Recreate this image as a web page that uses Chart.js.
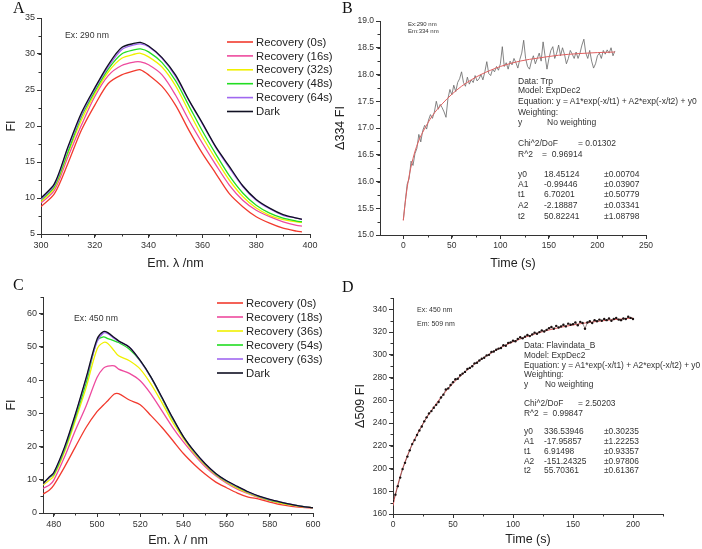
<!DOCTYPE html>
<html>
<head>
<meta charset="utf-8">
<script src="https://cdn.jsdelivr.net/npm/chart.js@4.4.0/dist/chart.umd.min.js"></script>
<style>
  body { margin: 0; background: #fff; }
  #page { position: relative; width: 702px; height: 549px; overflow: hidden; background: #fff; }
  canvas { position: absolute; }
  .t { position: absolute; font-family: "Liberation Sans", Arial, sans-serif; color: #333; white-space: pre; line-height: 1; }
  .L { position: absolute; font-family: "Liberation Serif", "Times New Roman", serif; font-size: 16px; line-height: 1; color: #111; }
</style>
</head>
<body>
<div id="page">
  <canvas id="cA" width="345" height="275" style="left:0;top:0"></canvas>
  <canvas id="cB" width="373" height="275" style="left:329px;top:0"></canvas>
  <canvas id="cC" width="345" height="274" style="left:0;top:275px"></canvas>
  <canvas id="cD" width="353" height="274" style="left:349px;top:275px"></canvas>
  <div class="L" style="left:13px;top:0">A</div>
  <div class="L" style="left:342px;top:0">B</div>
  <div class="L" style="left:13px;top:277px">C</div>
  <div class="L" style="left:342px;top:279px">D</div>
</div>
<script>
// ---- panel A : Trp spectra ----
const aWl = [300, 305, 310, 315, 320, 325, 330, 335, 337, 340, 345, 350, 355, 360, 365, 370, 375, 380, 385, 390, 395, 397];
const aRec0 = [8.8, 10.6, 14.8, 19.4, 22.9, 25.9, 27.1, 27.7, 27.8, 27.1, 25.5, 22.9, 19.4, 16.2, 13.4, 10.6, 8.8, 7.4, 6.5, 5.8, 5.4, 5.3];
const aRec16 = [9.3, 11.1, 15.7, 20.1, 24.1, 27.0, 28.4, 28.9, 28.9, 28.5, 27.1, 24.3, 20.8, 17.6, 14.6, 11.8, 9.7, 8.3, 7.4, 6.7, 6.2, 6.1];
const aRec32 = [9.5, 11.4, 16.2, 20.8, 24.5, 27.5, 29.4, 30.0, 30.1, 29.6, 28.2, 25.6, 22.0, 18.5, 15.4, 12.5, 10.2, 8.6, 7.6, 7.0, 6.7, 6.6];
const aRec48 = [9.7, 11.6, 16.4, 21.3, 24.8, 27.9, 30.0, 30.6, 30.7, 30.3, 28.8, 26.3, 22.8, 19.3, 16.1, 13.1, 10.7, 9.0, 7.9, 7.2, 6.8, 6.7];
const aRec64 = [9.8, 11.8, 16.9, 21.5, 25.1, 28.2, 30.6, 31.3, 31.4, 31.0, 29.4, 26.9, 23.5, 20.3, 17.0, 14.2, 11.6, 9.7, 8.5, 7.6, 7.2, 7.0];
const aDark = [10.0, 12.0, 17.1, 21.8, 25.3, 28.5, 30.9, 31.5, 31.6, 31.1, 29.5, 27.1, 23.6, 20.4, 17.1, 14.4, 11.7, 9.8, 8.6, 7.7, 7.2, 7.05];
const aLabels = ['Recovery (0s)', 'Recovery (16s)', 'Recovery (32s)', 'Recovery (48s)', 'Recovery (64s)', 'Dark'];
const aXTicks = [300, 320, 340, 360, 380, 400];
const aYTicks = [5, 10, 15, 20, 25, 30, 35];

// ---- panel B : Trp recovery kinetics ----
const bTime = [0, 2, 4, 6, 8, 10, 12, 14, 16, 18, 20, 22, 24, 26, 28, 30, 32, 34, 36, 38, 40, 42, 44, 46, 48, 50,
  52, 54, 56, 58, 60, 62, 64, 66, 68, 70, 72, 74, 76, 78, 80, 82, 84, 86, 88, 90, 92, 94, 96, 98, 100,
  102, 104, 106, 108, 110, 112, 114, 116, 118, 120, 122, 124, 126, 128, 130, 132, 134, 136, 138, 140,
  142, 144, 146, 148, 150, 152, 154, 156, 158, 160, 162, 164, 166, 168, 170, 172, 174, 176, 178, 180,
  182, 184, 186, 188, 190, 192, 194, 196, 198, 200, 202, 204, 206, 208, 210, 212, 214, 216, 218];
const bSignal = [15.28, 15.62, 15.95, 16.05, 16.38, 16.30, 16.52, 16.62, 16.88, 16.74, 16.95, 17.05, 16.98, 17.15, 17.25, 17.18,
  17.30, 17.50, 17.35, 17.44, 17.38, 17.30, 17.20, 17.55, 17.72, 17.62, 17.80, 17.68, 17.85, 17.92, 18.05,
  17.85, 17.78, 17.95, 17.82, 17.90, 17.85, 17.98, 17.88, 17.92, 18.00, 17.90, 18.05, 18.24, 18.02, 17.98,
  18.10, 18.05, 18.15, 18.08, 18.20, 18.52, 18.15, 18.22, 18.10, 18.25, 18.18, 18.30, 18.22, 18.12, 18.28,
  18.40, 18.64, 18.30, 18.15, 18.10, 18.25, 18.35, 18.20, 18.30, 18.40, 18.25, 18.61, 18.35, 18.10, 18.30,
  18.45, 18.52, 18.30, 18.40, 18.55, 18.35, 18.50, 18.38, 18.20, 18.30, 18.45, 18.38, 18.30, 18.42, 18.30,
  18.40, 18.55, 18.66, 18.40, 18.30, 18.45, 18.25, 18.12, 18.20, 18.35, 18.40, 18.30, 18.45, 18.38, 18.46,
  18.40, 18.50, 18.35, 18.44];
const bFitTime = [0, 2, 5, 10, 15, 20, 30, 40, 50, 60, 70, 80, 90, 100, 120, 140, 160, 180, 200, 218];
const bFit = [15.27, 15.61, 16.00, 16.43, 16.72, 16.92, 17.23, 17.45, 17.63, 17.78, 17.90, 18.00, 18.08, 18.15, 18.25, 18.31, 18.36, 18.39, 18.41, 18.42];
const bXTicks = [0, 50, 100, 150, 200, 250];
const bYTicks = [15.0, 15.5, 16.0, 16.5, 17.0, 17.5, 18.0, 18.5, 19.0];

// ---- panel C : flavin spectra ----
const cWl = [475, 478, 480, 485, 490, 495, 500, 503, 505, 508, 510, 515, 520, 525, 530, 535, 540, 545, 550, 555, 560, 565, 570, 575, 580, 585, 590, 595, 600];
const cRec0 = [5.7, 6.9, 8.4, 13.9, 19.9, 25.8, 30.5, 32.5, 33.8, 35.8, 35.9, 34.0, 32.6, 29.3, 25.8, 21.9, 17.9, 14.6, 11.7, 9.3, 7.6, 6.0, 4.8, 4.2, 3.3, 2.5, 2.0, 1.7, 1.5];
const cRec18 = [7.4, 8.4, 9.9, 16.9, 24.9, 32.3, 40.8, 43.6, 44.2, 44.3, 43.3, 42.0, 39.8, 35.8, 30.8, 25.8, 21.4, 17.5, 14.0, 11.2, 9.0, 7.2, 5.8, 4.6, 3.7, 2.9, 2.3, 1.9, 1.6];
const cRec36 = [8.4, 9.9, 11.1, 18.4, 27.8, 37.8, 49.3, 51.3, 51.0, 48.8, 47.3, 45.8, 43.3, 38.8, 33.3, 27.3, 22.4, 18.0, 14.4, 11.5, 9.3, 7.5, 6.0, 4.8, 3.8, 3.0, 2.4, 1.9, 1.6];
const cRec54 = [8.9, 10.7, 11.6, 19.1, 28.8, 39.3, 51.8, 53.0, 52.5, 51.8, 51.3, 49.3, 45.8, 40.8, 34.6, 28.3, 22.9, 18.4, 14.7, 11.7, 9.5, 7.8, 6.2, 4.9, 3.9, 3.2, 2.5, 2.0, 1.6];
const cRec63 = [8.7, 10.7, 12.0, 19.6, 29.5, 40.4, 51.5, 54.2, 54.0, 52.5, 51.6, 49.9, 45.8, 40.8, 34.8, 28.5, 22.9, 18.5, 14.8, 11.8, 9.6, 7.9, 6.3, 5.0, 4.0, 3.3, 2.6, 2.0, 1.6];
const cDark = [8.9, 10.9, 12.2, 19.9, 29.8, 40.8, 52.3, 54.6, 54.3, 52.8, 51.8, 49.9, 45.9, 40.9, 34.9, 28.7, 23.0, 18.6, 14.9, 11.9, 9.7, 8.0, 6.4, 5.1, 4.1, 3.3, 2.6, 2.0, 1.6];
const cLabels = ['Recovery (0s)', 'Recovery (18s)', 'Recovery (36s)', 'Recovery (54s)', 'Recovery (63s)', 'Dark'];
const cXTicks = [480, 500, 520, 540, 560, 580, 600];
const cYTicks = [0, 10, 20, 30, 40, 50, 60];

// ---- panel D : flavin recovery kinetics ----
const dTime = [0, 2, 4, 6, 8, 10, 12, 14, 16, 18, 20, 22, 24, 26, 28, 30, 32, 34, 36, 38, 40, 42, 44, 46, 48, 50,
  52, 54, 56, 58, 60, 62, 64, 66, 68, 70, 72, 74, 76, 78, 80, 82, 84, 86, 88, 90, 92, 94, 96, 98, 100,
  102, 104, 106, 108, 110, 112, 114, 116, 118, 120, 122, 124, 126, 128, 130, 132, 134, 136, 138, 140,
  142, 144, 146, 148, 150, 152, 154, 156, 158, 160, 162, 164, 166, 168, 170, 172, 174, 176, 178, 180,
  182, 184, 186, 188, 190, 192, 194, 196, 198, 200];
const dSignal = [171.5, 177.0, 184.5, 192.0, 199.5, 205.0, 210.5, 216.0, 221.5, 225.0, 229.5, 233.5, 237.0, 241.5, 245.0, 248.5,
  250.5, 253.5, 256.0, 258.5, 262.5, 265.0, 269.5, 270.5, 273.5, 276.0, 278.5, 279.0, 282.0, 283.5, 285.0,
  287.5, 288.5, 290.0, 292.5, 293.0, 295.0, 296.5, 297.5, 299.5, 300.0, 302.5, 303.0, 304.5, 305.5, 306.0,
  308.5, 308.0, 310.5, 311.0, 312.5, 312.0, 314.0, 315.5, 314.5, 316.0, 317.5, 316.5, 318.0, 319.5, 318.5,
  320.0, 321.5, 320.5, 322.0, 323.5, 324.5, 323.0, 325.5, 324.0, 325.0, 326.5, 325.0, 327.5, 326.5, 327.0,
  328.5, 326.0, 329.0, 328.0, 323.0, 328.5, 329.5, 328.0, 330.5, 329.5, 331.0, 330.0, 331.5, 330.5, 332.0,
  330.0, 331.5, 332.5, 331.0, 330.5, 332.0, 331.5, 333.5, 332.5, 331.5];
const dFitTime = [0, 2, 4, 6, 8, 10, 15, 20, 25, 30, 40, 50, 60, 70, 80, 90, 100, 110, 120, 130, 140, 150, 160, 170, 180, 190, 200];
const dFit = [167.3, 177.2, 185.7, 193.2, 199.9, 205.9, 219.0, 229.9, 239.5, 248.0, 262.7, 274.9, 285.0, 293.5, 300.5, 306.5,
  311.4, 315.5, 319.0, 321.9, 324.3, 326.3, 328.0, 329.4, 330.6, 331.5, 332.4];
const dXTicks = [0, 50, 100, 150, 200];
const dYTicks = [160, 180, 200, 220, 240, 260, 280, 300, 320, 340];

const spectrumColors = ['#f23a2e', '#ee4a9e', '#f0f000', '#22dd22', '#a068f0', '#101022'];
const FONT = '"Liberation Sans", Arial, sans-serif';

// small outward minor ticks (Chart.js has none of its own)
const minorTicks = {
  id: 'minorTicks',
  afterDraw(chart, args, opts) {
    const ctx = chart.ctx;
    ctx.save();
    ctx.strokeStyle = '#333';
    ctx.lineWidth = 1;
    ['x', 'y'].forEach(id => {
      const s = chart.scales[id], step = opts[id];
      if (!step) return;
      for (let v = Math.ceil(s.min / step - 1e-9) * step; v <= s.max + 1e-9; v += step) {
        const p = Math.round(s.getPixelForValue(v)) + 0.5;
        ctx.beginPath();
        if (id === 'x') { ctx.moveTo(p, s.top); ctx.lineTo(p, s.top + 2.5); }
        else { ctx.moveTo(s.right, p); ctx.lineTo(s.right - 2.5, p); }
        ctx.stroke();
      }
    });
    ctx.restore();
  }
};

// legend drawn inside the plot, like Origin does
const boxLegend = {
  id: 'boxLegend',
  afterDraw(chart, args, o) {
    if (o.x == null) return;
    const ctx = chart.ctx;
    ctx.save();
    ctx.font = o.size + 'px ' + FONT;
    ctx.textBaseline = 'middle';
    chart.data.datasets.forEach((ds, i) => {
      const y = o.y + i * o.step;
      ctx.strokeStyle = ds.borderColor;
      ctx.lineWidth = 1.6;
      ctx.beginPath();
      ctx.moveTo(o.x, y);
      ctx.lineTo(o.x + o.len, y);
      ctx.stroke();
      ctx.fillStyle = '#222';
      ctx.fillText(ds.label, o.x + o.len + 3, y + 0.5);
    });
    ctx.restore();
  }
};

function pts(xs, ys) {
  return xs.map((x, i) => ({ x: x, y: ys[i] }));
}

function axis(min, max, ticks, title, size, fitSize, fmt, titlePad) {
  return {
    type: 'linear', min: min, max: max,
    afterBuildTicks: s => { s.ticks = ticks.map(v => ({ value: v })); },
    afterFit: s => { if (s.isHorizontal()) s.height = fitSize; else s.width = fitSize; },
    border: { display: true, color: '#333', width: 1 },
    grid: { drawOnChartArea: false, drawTicks: true, tickLength: 4, tickColor: '#333' },
    ticks: { autoSkip: false, maxRotation: 0, padding: 2, color: '#333', font: { family: FONT, size: size }, callback: fmt || (v => v) },
    title: { display: true, text: title, color: '#222', font: { family: FONT, size: 12.5 }, padding: titlePad || { top: 4, bottom: 4 } }
  };
}

function makeChart(id, datasets, pad, xAx, yAx, plugOpts) {
  return new Chart(document.getElementById(id), {
    type: 'line',
    data: { datasets: datasets },
    options: {
      responsive: false,
      animation: false,
      layout: { padding: pad },
      scales: { x: xAx, y: yAx },
      plugins: Object.assign({ legend: { display: false }, tooltip: { enabled: false } }, plugOpts)
    },
    plugins: [minorTicks, boxLegend]
  });
}

function spectra(xs, series, labels) {
  return series.map((ys, i) => ({
    label: labels[i],
    data: pts(xs, ys),
    borderColor: spectrumColors[i],
    borderWidth: 1.3,
    pointRadius: 0,
    tension: 0.3,
    order: series.length - i
  }));
}

// A
makeChart('cA',
  spectra(aWl, [aRec0, aRec16, aRec32, aRec48, aRec64, aDark], aLabels),
  { left: 0, top: 18, right: 35, bottom: 0 },
  axis(300, 400, aXTicks, 'Em. \u03bb /nm', 9, 41),
  axis(5, 35, aYTicks, 'FI', 9, 41),
  { minorTicks: { x: 10, y: 2.5 }, boxLegend: { x: 227, y: 42, step: 13.9, len: 26, size: 11.3 } });

// B
makeChart('cB', [
  { label: 'fit', data: pts(bFitTime, bFit), borderColor: '#e06060', borderWidth: 1, pointRadius: 0, cubicInterpolationMode: 'monotone', order: 0 },
  { label: 'Trp', data: pts(bTime, bSignal), borderColor: '#666', borderWidth: 0.8, pointRadius: 0, tension: 0, order: 1 }
],
  { left: 0, top: 21, right: 56, bottom: 0 },
  axis(-24, 250, bXTicks, 'Time (s)', 8.5, 40),
  axis(15, 19, bYTicks, '\u0394334 FI', 8.5, 51, v => v.toFixed(1)),
  { minorTicks: { x: 25, y: 0.25 }, boxLegend: {} });

// C
makeChart('cC',
  spectra(cWl, [cRec0, cRec18, cRec36, cRec54, cRec63, cDark], cLabels),
  { left: 0, top: 22, right: 32, bottom: 0 },
  axis(475, 600, cXTicks, 'Em. \u03bb / nm', 9, 36, null, { top: 4, bottom: 1 }),
  axis(0, 65, cYTicks, 'FI', 9, 43),
  { minorTicks: { x: 10, y: 5 }, boxLegend: { x: 217, y: 28, step: 14, len: 26, size: 11.3 } });

// D
makeChart('cD', [
  { label: 'fit', data: pts(dFitTime, dFit), borderColor: '#e06060', borderWidth: 1, pointRadius: 0, cubicInterpolationMode: 'monotone', order: 2 },
  { label: 'Flavindata_B', data: pts(dTime, dSignal), showLine: true, borderWidth: 0.6, borderColor: '#5a3a3a', pointRadius: 1.2, pointBorderWidth: 0, pointBackgroundColor: '#1a1010', order: 0 }
],
  { left: 0, top: 23, right: 39, bottom: 0 },
  axis(0, 225, dXTicks, 'Time (s)', 8.5, 35, null, { top: 4, bottom: 2 }),
  axis(160, 350, dYTicks, '\u0394509 FI', 8.5, 44),
  { minorTicks: { x: 25, y: 10 }, boxLegend: {} });

// text notes copied from the figure
const page = document.getElementById('page');
function note(x, cy, size, text) {
  const d = document.createElement('div');
  d.className = 't';
  d.style.left = x + 'px';
  d.style.top = (cy - size * 0.52) + 'px';
  d.style.fontSize = size + 'px';
  d.textContent = text;
  page.appendChild(d);
}
note(65, 36, 8.7, 'Ex: 290 nm');
note(74, 318.3, 8.7, 'Ex: 450 nm');
note(408, 24, 6, 'Ex:290 nm');
note(408, 31.5, 6, 'Em:334 nm');
note(417, 309.3, 7, 'Ex: 450 nm');
note(417, 324, 7, 'Em: 509 nm');

function fitBox(x, rows, size) {
  rows.forEach(r => {
    note(x, r[0], size, r[1]);
    if (r[2]) note(r[2], r[0], size, r[3]);
    if (r[4]) note(r[4], r[0], size, r[5]);
  });
}
fitBox(518, [
  [81, 'Data: Trp'],
  [90.5, 'Model: ExpDec2'],
  [101, 'Equation: y = A1*exp(-x/t1) + A2*exp(-x/t2) + y0'],
  [112, 'Weighting:'],
  [122.5, 'y', 547, 'No weighting'],
  [143, 'Chi^2/DoF', 578, '= 0.01302'],
  [154, 'R^2', 542, '=  0.96914'],
  [174, 'y0', 544, '18.45124', 604, '\u00b10.00704'],
  [184, 'A1', 544, '-0.99446', 604, '\u00b10.03907'],
  [194.5, 't1', 544, '6.70201', 604, '\u00b10.50779'],
  [205, 'A2', 544, '-2.18887', 604, '\u00b10.03341'],
  [216, 't2', 544, '50.82241', 604, '\u00b11.08798']
], 8.5);
fitBox(524, [
  [345, 'Data: Flavindata_B'],
  [355, 'Model: ExpDec2'],
  [365, 'Equation: y = A1*exp(-x/t1) + A2*exp(-x/t2) + y0'],
  [374.5, 'Weighting:'],
  [384, 'y', 545, 'No weighting'],
  [403.5, 'Chi^2/DoF', 578, '= 2.50203'],
  [413, 'R^2', 543, '=  0.99847'],
  [431.7, 'y0', 544, '336.53946', 604, '\u00b10.30235'],
  [441.5, 'A1', 544, '-17.95857', 604, '\u00b11.22253'],
  [451, 't1', 544, '6.91498', 604, '\u00b10.93357'],
  [461, 'A2', 544, '-151.24325', 604, '\u00b10.97806'],
  [470.5, 't2', 544, '55.70361', 604, '\u00b10.61367']
], 8.4);
</script>
</body>
</html>
